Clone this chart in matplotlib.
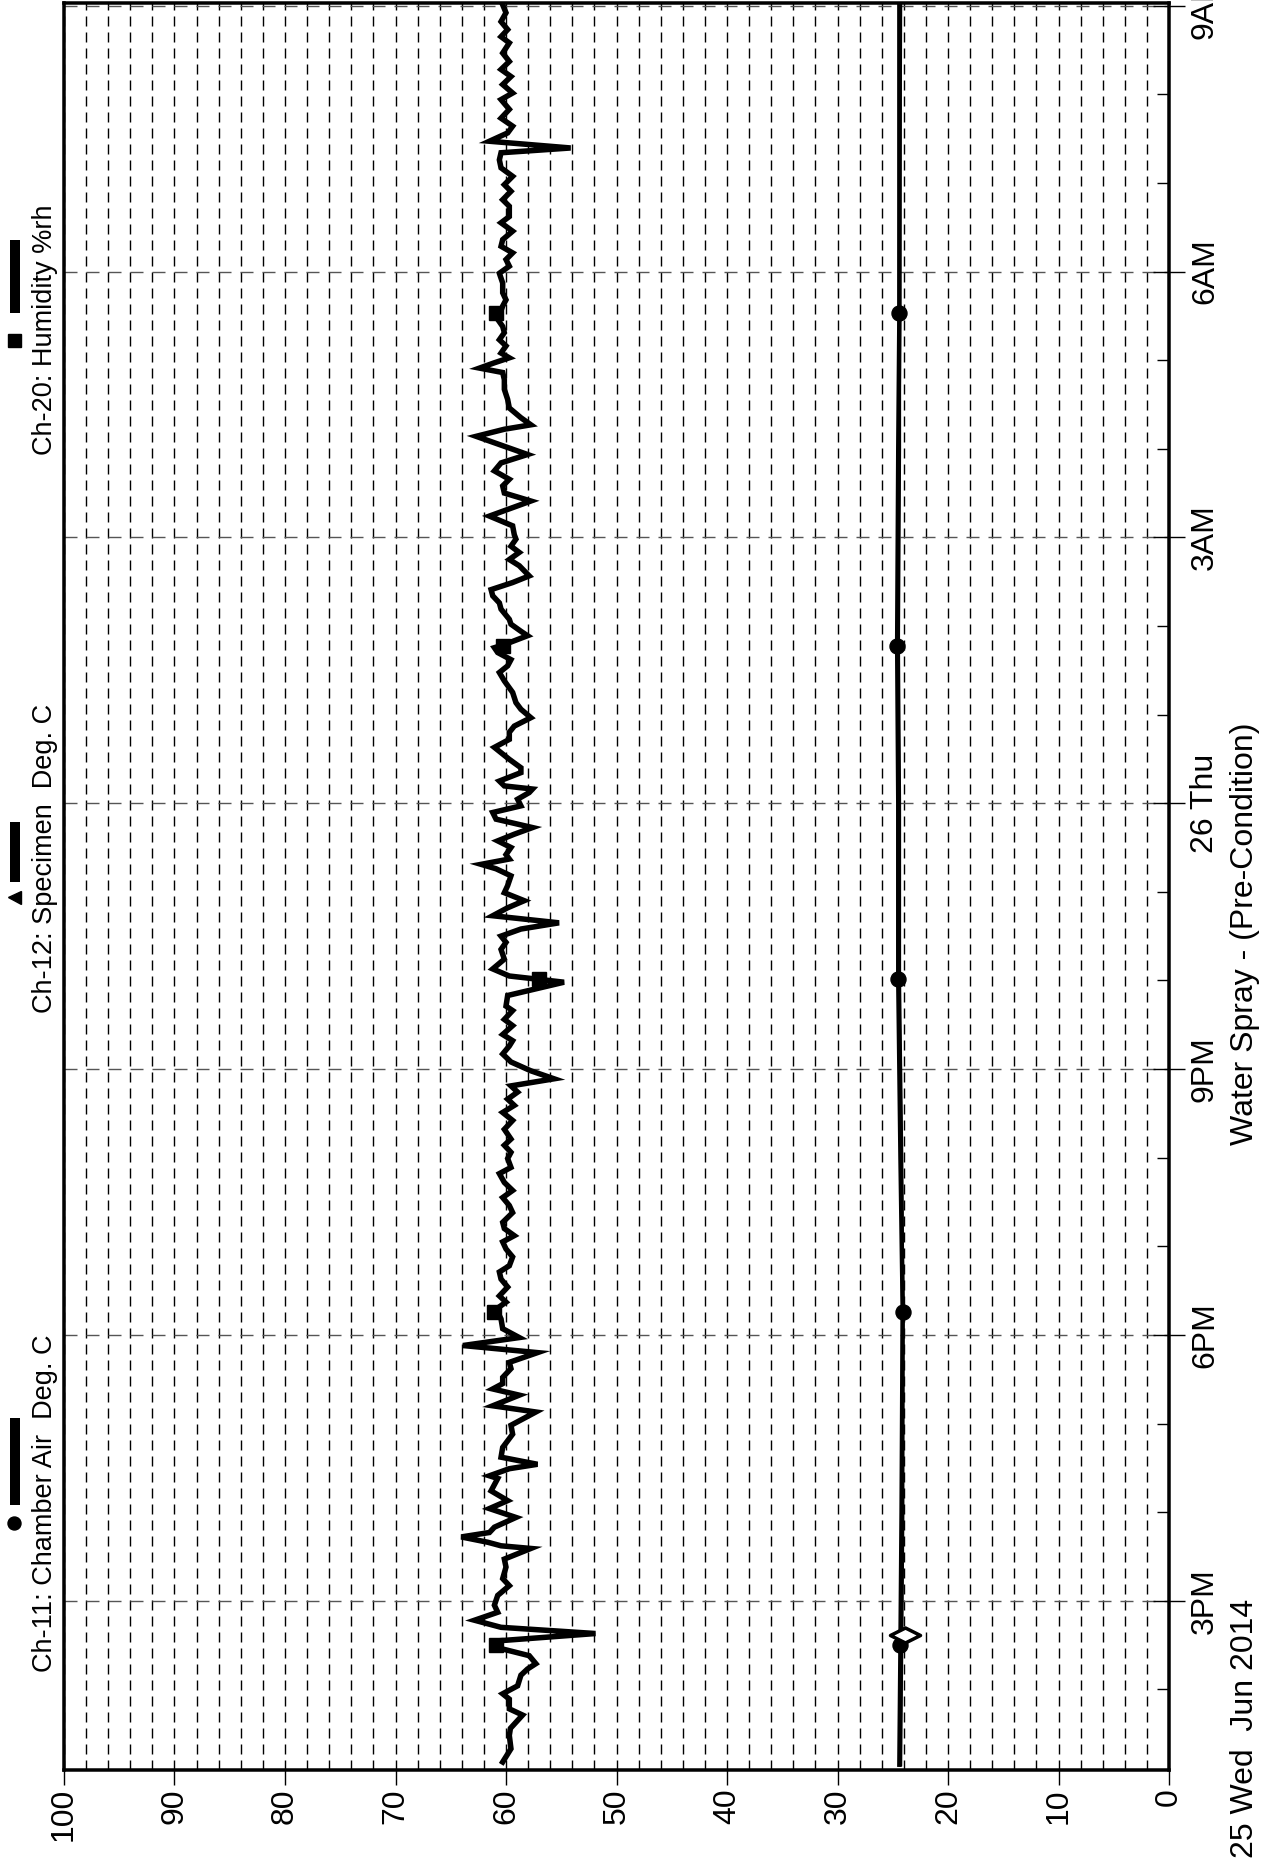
import matplotlib
matplotlib.use("Agg")
import matplotlib.pyplot as plt
from matplotlib.lines import Line2D
from matplotlib.path import Path
from matplotlib.ticker import FixedLocator, MultipleLocator

plt.rcParams['font.family'] = ['Liberation Sans', 'DejaVu Sans']
plt.rcParams['lines.scale_dashes'] = False

W, H, DPI = 1268, 1859, 100
PT = 72.0 / DPI          # points per pixel

# === Data (time = hours from 25 Jun 00:00) ==================================
hum_t = [13.18, 13.33, 13.48, 13.56, 13.71, 13.78, 13.89, 13.95, 14.04, 14.16,
         14.23, 14.29, 14.38, 14.46, 14.55, 14.63, 14.70, 14.78, 14.87, 14.95,
         15.06, 15.17, 15.25, 15.38, 15.47, 15.59, 15.62, 15.66, 15.72, 15.77,
         15.83, 15.94, 16.04, 16.13, 16.24, 16.38, 16.41, 16.49, 16.54, 16.62,
         16.73, 16.88, 16.98, 17.13, 17.20, 17.32, 17.39, 17.45, 17.52, 17.62,
         17.69, 17.80, 17.88, 17.97, 18.07,
         18.18, 18.29, 18.37, 18.44, 18.54, 18.63, 18.71, 18.78, 18.88, 18.97,
         19.05, 19.12, 19.20, 19.27, 19.38, 19.46, 19.55, 19.63, 19.72, 19.82,
         19.89, 19.99, 20.06, 20.14, 20.21, 20.32, 20.42, 20.51, 20.59, 20.66,
         20.74, 20.81, 20.89, 20.98, 21.08, 21.17, 21.26, 21.32, 21.39, 21.49,
         21.56, 21.66, 21.71, 21.83, 21.90, 21.98, 22.05, 22.13, 22.24, 22.35,
         22.43, 22.50, 22.58, 22.65, 22.73, 22.82, 22.90, 22.99, 23.07,
         23.18, 23.26, 23.31, 23.37, 23.42, 23.50, 23.575, 23.65, 23.725, 23.82,
         23.895, 23.97, 24.045, 24.12, 24.16, 24.195, 24.25, 24.345, 24.40, 24.495,
         24.63, 24.72, 24.80, 24.87, 24.965, 25.06, 25.135, 25.25, 25.38, 25.475,
         25.55, 25.62, 25.70, 25.755, 25.79, 25.89, 25.94, 26.02, 26.075, 26.19,
         26.26, 26.34, 26.41, 26.49, 26.565, 26.68, 26.75, 26.83, 26.90, 26.98,
         27.03, 27.13, 27.24, 27.315, 27.41, 27.50, 27.58, 27.655, 27.75, 27.84,
         27.935,
         28.14, 28.22, 28.27, 28.35, 28.46, 28.556, 28.67, 28.78, 28.86, 28.91,
         28.97, 29.026, 29.08, 29.16, 29.23, 29.31, 29.38, 29.46, 29.61, 29.68,
         29.76, 29.87, 29.98, 30.06, 30.135, 30.21, 30.285, 30.36, 30.455, 30.55,
         30.62, 30.736, 30.81, 30.905, 30.98, 31.074, 31.17, 31.26, 31.34, 31.394,
         31.47, 31.564, 31.64, 31.73, 31.83, 31.94, 32.014, 32.11, 32.20, 32.28,
         32.37, 32.465, 32.58, 32.65, 32.73, 32.82, 32.92, 33.01]
hum_v = [60.3, 59.55, 59.7, 59.6, 58.5, 59.7, 59.7, 60.3, 58.95, 58.65,
         58.05, 57.3, 57.9, 60.45, 60.45, 51.9, 60.45, 62.85, 60.75, 61.05,
         60.75, 59.7, 60.3, 60.0, 60.15, 57.75, 60.45, 61.65, 64.05, 61.5,
         61.05, 59.1, 61.5, 59.85, 61.35, 60.75, 61.5, 59.7, 57.15, 60.45,
         60.3, 59.4, 59.55, 57.3, 61.2, 58.8, 61.2, 60.3, 60.3, 59.55,
         59.7, 57.15, 63.9, 58.8, 60.3,
         60.45, 60.9, 60.0, 60.6, 59.85, 60.45, 60.6, 59.7, 59.4, 60.0,
         60.3, 59.25, 60.15, 60.3, 59.4, 59.7, 60.3, 59.4, 60.15, 60.6,
         59.55, 59.85, 59.55, 60.15, 59.55, 60.15, 59.4, 60.3, 59.25, 59.85,
         58.95, 59.55, 55.65, 57.75, 59.55, 60.3, 59.7, 59.4, 60.3, 59.4,
         60.15, 59.4, 60.0, 59.85, 57.45, 54.75, 59.7, 61.2, 60.15, 60.45,
         60.0, 60.45, 58.65, 55.2, 61.2, 59.85, 58.35, 60.15, 59.85,
         59.55, 60.9, 62.25, 59.7, 60.0, 59.55, 60.75, 59.25, 57.6, 60.9,
         61.2, 58.65, 58.95, 57.9, 57.6, 60.15, 60.6, 58.65, 58.65, 59.7,
         61.05, 59.7, 59.7, 59.25, 57.75, 58.65, 59.1, 59.4, 60.15, 60.6,
         59.85, 59.55, 60.75, 61.05, 60.15, 58.05, 58.65, 59.55, 59.7, 60.45,
         60.6, 61.2, 61.35, 59.4, 57.9, 58.8, 59.7, 58.8, 59.55, 59.1,
         59.25, 59.4, 61.5, 59.85, 57.75, 60.15, 60.3, 59.7, 61.05, 60.45,
         58.05,
         62.7, 60.15, 57.75, 58.65, 59.7, 59.85, 60.15, 60.15, 60.3, 62.4,
         61.05, 59.7, 60.45, 60.0, 60.6, 60.15, 60.3, 60.75, 60.3, 60.0,
         60.3, 60.3, 60.6, 59.7, 60.0, 59.4, 60.45, 60.3, 59.4, 60.45,
         59.7, 59.7, 60.3, 59.55, 60.15, 59.4, 60.45, 60.6, 60.45, 54.15,
         61.5, 59.85, 59.4, 60.45, 59.7, 60.45, 59.4, 60.3, 59.55, 60.45,
         59.7, 60.3, 59.7, 60.45, 59.85, 60.45, 60.0, 60.3]

temp_t = [13.15, 14.5, 16.0, 18.3, 20.0, 22.0, 24.0, 25.8, 28.0, 29.5, 33.03]
air_v = [24.4, 24.3, 24.2, 24.1, 24.3, 24.5, 24.5, 24.6, 24.5, 24.4, 24.4]
spec_v = [24.3, 24.2, 24.1, 24.1, 24.2, 24.4, 24.4, 24.5, 24.4, 24.4, 24.3]

mark_t = [14.50, 18.26, 22.02, 25.77, 29.53]
hum_mark_v = [60.9, 61.05, 57.0, 60.3, 60.9]
air_mark_v = [24.3, 24.1, 24.5, 24.6, 24.4]
spec_mark_t = [14.61]
spec_mark_v = [23.9]

val_ticks = list(range(0, 101, 10))
time_ticks = [15, 18, 21, 24, 27, 30, 33]
time_labels = ["3PM", "6PM", "9PM", "26 Thu", "3AM", "6AM", "9AM"]

# === Figure =================================================================
fig = plt.figure(figsize=(W / DPI, H / DPI), dpi=DPI)
ax = fig.add_axes([64 / W, 1 - 1770 / H, (1169 - 64) / W, (1770 - 3) / H])
ax.set_xlim(100, 0)
ax.set_ylim(13.09, 33.03)

for s in ax.spines.values():
    s.set_linewidth(3.5 * PT)

# grid
ax.xaxis.set_major_locator(FixedLocator(val_ticks))
ax.xaxis.set_minor_locator(MultipleLocator(2))
ax.grid(which="both", axis="x", color="black", lw=1.4 * PT,
        linestyle=(0, (10 * PT, 6 * PT)))
ax.yaxis.tick_right()
ax.yaxis.set_major_locator(FixedLocator(time_ticks))
ax.yaxis.set_minor_locator(MultipleLocator(1))
ax.grid(which="major", axis="y", color="#555555", lw=1.4 * PT,
        linestyle=(0, (13 * PT, 9 * PT)))
ax.set_axisbelow(True)

# ticks
ax.set_xticklabels([str(v) for v in val_ticks])
ax.tick_params(axis="x", which="major", direction="out", length=15 * PT,
               width=1.4 * PT, labelsize=23, labelrotation=90, pad=3 * PT)
ax.tick_params(axis="x", which="minor", length=0)
ax.set_yticklabels(time_labels)
ax.tick_params(axis="y", which="major", direction="inout", length=32 * PT,
               width=1.4 * PT, labelsize=23, labelrotation=90, pad=5 * PT,
               left=False, right=True)
ax.tick_params(axis="y", which="minor", direction="in", length=12 * PT,
               width=1.4 * PT, left=False, right=True)
for lab in ax.get_yticklabels():
    lab.set_va("center")

# data
ax.plot(spec_v, temp_t, color="black", lw=3.5 * PT, zorder=3)
ax.plot(air_v, temp_t, color="black", lw=4.5 * PT, zorder=3)
ax.plot(hum_v, hum_t, color="black", lw=5.5 * PT, zorder=4,
        solid_joinstyle="miter")
ax.plot(hum_mark_v, mark_t, ls="none", marker="s", ms=14 * PT,
        color="black", zorder=5)
ax.plot(air_mark_v, mark_t, ls="none", marker="o", ms=15 * PT,
        color="black", zorder=5)
diamond = Path([(-1, 0), (0, 0.5), (1, 0), (0, -0.5), (-1, 0)],
               [Path.MOVETO, Path.LINETO, Path.LINETO, Path.LINETO, Path.CLOSEPOLY])
ax.plot(spec_mark_v, spec_mark_t, ls="none", marker=diamond, ms=30 * PT,
        mfc="white", mec="black", mew=3.5 * PT, zorder=6)

# === Bottom captions (rotated) ==============================================
fig.text(1230 / W, 1 - 934 / H, "Water Spray - (Pre-Condition)", rotation=90,
         ha="left", va="center", fontsize=23)
fig.text(1230 / W, 1 - 1858 / H, "25 Wed  Jun 2014", rotation=90,
         ha="left", va="bottom", fontsize=23)

# === Legend along the left edge =============================================
legend = [
    ("Ch-11: Chamber Air  Deg. C", 1672, (1418, 1505), 1523, "o"),
    ("Ch-12: Specimen  Deg. C", 1013, (822, 882), 897, "<"),
    ("Ch-20: Humidity %rh", 455, (240, 313), 340, "s"),
]
for text, ystart, (b0, b1), ym, mk in legend:
    fig.text(32 / W, 1 - ystart / H, text, rotation=90, ha="left",
             va="bottom", fontsize=19.5)
    fig.add_artist(Line2D([15 / W, 15 / W], [1 - b0 / H, 1 - b1 / H],
                          color="black", lw=10 * PT, solid_capstyle="butt"))
    fig.add_artist(Line2D([14 / W], [1 - ym / H], ls="none", marker=mk,
                          ms=13 * PT, color="black"))

fig.savefig("out.png", dpi=DPI)
